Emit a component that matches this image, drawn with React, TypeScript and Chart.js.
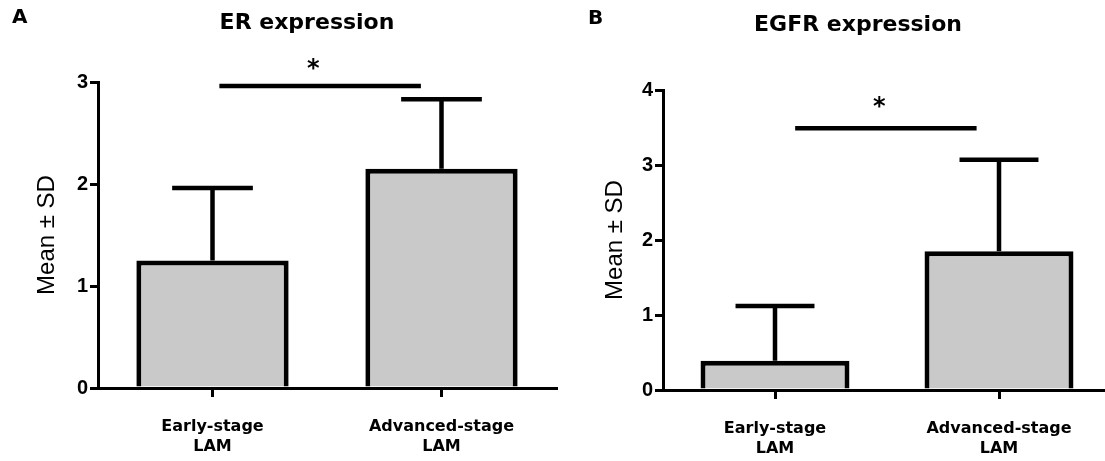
import React, { useEffect, useRef } from "react";
import { Chart, registerables } from "chart.js";

Chart.register(...registerables);

// ---- data ----
const categories = [["Early-stage", "LAM"], ["Advanced-stage", "LAM"]];
const erMeans = [1.25, 2.15];
const erSD = [0.71, 0.68];
const egfrMeans = [0.39, 1.85];
const egfrSD = [0.73, 1.22];
const erTicksMax = 3;
const egfrTicksMax = 4;
// significance bar: [start, end] in category units, level, star level
const erSig = { from: 0.03, to: 0.91, level: 2.96, star: 3.2 };
const egfrSig = { from: 0.09, to: 0.9, level: 3.49, star: 3.87 };

const BOLD_SANS = "'DejaVu Sans', Verdana, sans-serif";
const ARIAL = "'Liberation Sans', Arial, sans-serif";

const errorBarPlugin = {
  id: "errorBars",
  afterDatasetsDraw(chart: any, _args: any, opts: any) {
    const { ctx } = chart;
    const y = chart.scales.y;
    const meta = chart.getDatasetMeta(0);
    const means = chart.data.datasets[0].data as number[];
    ctx.save();
    ctx.strokeStyle = "#000";
    ctx.lineWidth = 4.5;
    meta.data.forEach((bar: any, i: number) => {
      const top = y.getPixelForValue(means[i] + opts.sd[i]);
      const half = bar.width * 0.265;
      ctx.beginPath();
      ctx.moveTo(bar.x, bar.y);
      ctx.lineTo(bar.x, top);
      ctx.moveTo(bar.x - half, top);
      ctx.lineTo(bar.x + half, top);
      ctx.stroke();
    });
    ctx.restore();
  },
};

const annotatePlugin = {
  id: "annotate",
  afterDraw(chart: any, _args: any, opts: any) {
    const { ctx } = chart;
    const x = chart.scales.x;
    const y = chart.scales.y;
    const p0 = x.getPixelForValue(0);
    const p1 = x.getPixelForValue(1);
    const sig = opts.sig;
    const ly = y.getPixelForValue(sig.level);
    ctx.save();
    ctx.strokeStyle = "#000";
    ctx.lineWidth = 4.5;
    ctx.beginPath();
    ctx.moveTo(p0 + sig.from * (p1 - p0), ly);
    ctx.lineTo(p0 + sig.to * (p1 - p0), ly);
    ctx.stroke();
    // star
    ctx.fillStyle = "#000";
    ctx.font = `bold 24px ${BOLD_SANS}`;
    ctx.textAlign = "center";
    ctx.textBaseline = "alphabetic";
    const sx = p0 + ((sig.from + sig.to) / 2 - 0.03) * (p1 - p0);
    ctx.fillText("*", sx, y.getPixelForValue(sig.star) + 14);
    // title
    ctx.font = `bold 22px ${BOLD_SANS}`;
    ctx.textBaseline = "middle";
    ctx.fillText(opts.title, opts.titleX, opts.titleY);
    // panel letter
    ctx.font = `bold 20px ${BOLD_SANS}`;
    ctx.textAlign = "left";
    ctx.fillText(opts.letter, opts.letterX, opts.letterY);
    ctx.restore();
  },
};

function makeConfig(
  means: number[],
  sd: number[],
  max: number,
  yWidth: number,
  padTop: number,
  padRight: number,
  xHeight: number,
  yTitlePad: number,
  ann: any
): any {
  return {
    type: "bar",
    data: {
      labels: categories,
      datasets: [
        {
          data: means,
          backgroundColor: "#c9c9c9",
          borderColor: "#000",
          borderWidth: 5,
          borderSkipped: "start",
          categoryPercentage: 1,
          barPercentage: 0.665,
        },
      ],
    },
    plugins: [errorBarPlugin, annotatePlugin],
    options: {
      responsive: false,
      animation: false,
      devicePixelRatio: 1,
      layout: { padding: { top: padTop, right: padRight, left: 0, bottom: 0 } },
      plugins: {
        legend: { display: false },
        tooltip: { enabled: false },
        title: { display: false },
        errorBars: { sd },
        annotate: ann,
      },
      scales: {
        x: {
          offset: true,
          grid: {
            display: true,
            drawOnChartArea: false,
            offset: false,
            color: "#000",
            lineWidth: 3,
            tickLength: 9,
          },
          border: { display: true, color: "#000", width: 3 },
          ticks: {
            color: "#000",
            padding: 19,
            maxRotation: 0,
            font: { family: BOLD_SANS, weight: "bold", size: 16, lineHeight: 1.3 },
          },
          afterFit(scale: any) {
            scale.height = xHeight;
          },
        },
        y: {
          min: 0,
          max,
          ticks: {
            stepSize: 1,
            color: "#000",
            padding: 2,
            font: { family: ARIAL, weight: "bold", size: 20 },
          },
          grid: {
            display: true,
            drawOnChartArea: false,
            color: "#000",
            lineWidth: 3,
            tickLength: 8,
          },
          border: { display: true, color: "#000", width: 3 },
          title: {
            display: true,
            text: "Mean ± SD",
            color: "#000",
            padding: { top: yTitlePad, bottom: 0 },
            font: { family: ARIAL, size: 24, lineHeight: 1.2 },
          },
          afterFit(scale: any) {
            scale.width = yWidth;
          },
        },
      },
    },
  };
}

function Panel(props: { cfg: any; left: number; width: number }) {
  const ref = useRef<HTMLCanvasElement | null>(null);
  useEffect(() => {
    if (!ref.current) return;
    const chart = new Chart(ref.current, props.cfg);
    return () => chart.destroy();
  }, []);
  return (
    <canvas
      ref={ref}
      width={props.width}
      height={461}
      style={{ position: "absolute", left: props.left, top: 0, width: props.width, height: 461 }}
    />
  );
}

export default function App() {
  const cfgA = makeConfig(erMeans, erSD, erTicksMax, 98, 82, 4, 73, 33, {
    sig: erSig,
    title: "ER expression",
    titleX: 307,
    titleY: 23,
    letter: "A",
    letterX: 12,
    letterY: 18,
  });
  const cfgB = makeConfig(egfrMeans, egfrSD, egfrTicksMax, 103, 90, 9, 71, 41, {
    sig: egfrSig,
    title: "EGFR expression",
    titleX: 858 - 560,
    titleY: 25,
    letter: "B",
    letterX: 588 - 560,
    letterY: 19,
  });
  return (
    <div
      style={{
        position: "fixed",
        left: 0,
        top: 0,
        width: 1105,
        height: 461,
        overflow: "hidden",
        background: "#fff",
      }}
    >
      <Panel cfg={cfgA} left={0} width={560} />
      <Panel cfg={cfgB} left={560} width={560} />
    </div>
  );
}
